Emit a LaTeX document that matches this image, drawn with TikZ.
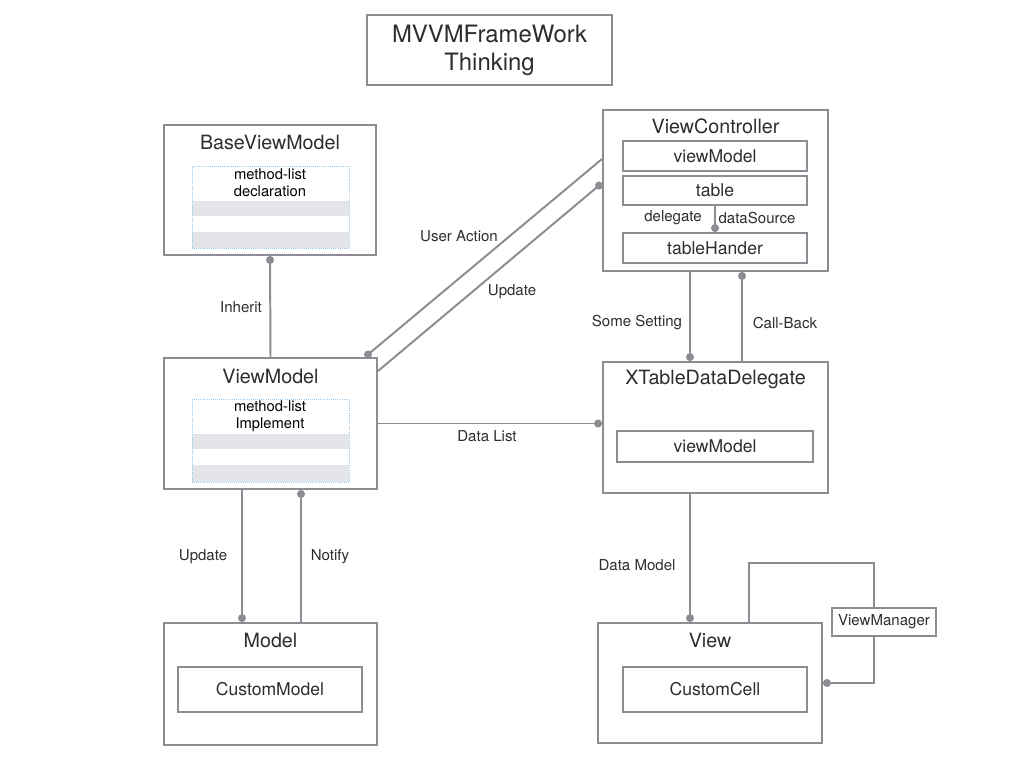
\documentclass[tikz,border=0pt]{standalone}
\usepackage{fontspec}
\setmainfont{TeX Gyre Heros}
\usepackage{tikz}
\usetikzlibrary{positioning,
				arrows.meta,
				calc}

\definecolor{frame}{RGB}{140,140,146}
\definecolor{ink}{RGB}{45,45,45}
\definecolor{band}{RGB}{228,229,233}
\definecolor{hint}{RGB}{150,198,228}

\tikzset{
	wh/.style 2 args={minimum width=#1*0.025cm, minimum height=#2*0.025cm},
	box/.style={draw=frame, line width=1.4pt, fill=white, inner sep=0pt, text=ink},
	hintbox/.style={draw=hint, densely dotted, line width=0.5pt, inner sep=0pt},
	ttl/.style={text=ink, font=\fontsize{14}{16}\selectfont},
	item/.style={text=ink, font=\fontsize{12.5}{14}\selectfont},
	lbl/.style={text=ink, font=\fontsize{10.7}{12}\selectfont},
	mlist/.style={text=black, align=center, font=\fontsize{10.5}{11.8}\selectfont},
	link/.style={draw=frame, line width=1.4pt},
	dotend/.style={-{Circle[length=5.6pt]}}
}

\begin{document}
\begin{tikzpicture}[x=0.025cm, y=-0.025cm]
	\useasboundingbox (0,0) rectangle (1024,768);

	% title
	\node[box, wh={245}{70}, align=center, font=\fontsize{17}{20}\selectfont] (title) at (489.5,50) {MVVMFrameWork\\Thinking};

	% left column
	\node[box, wh={212}{130}] (base) at (270,190) {};
	\node[ttl] (base-t) at ($(base.north)+(0,18)$) {BaseViewModel};
	\fill[band] (192,201) rectangle (349,216);
	\fill[band] (192,232) rectangle (349,248);
	\node[hintbox, wh={157}{82}] (base-m) at (270.5,207) {};
	\node[mlist] at (270,183) {method-list\\declaration};

	\node[box, wh={213}{131}] (vm) at (270.5,423.5) {};
	\node[ttl] (vm-t) at ($(vm.north)+(0,19)$) {ViewModel};
	\fill[band] (192,434) rectangle (349,449);
	\fill[band] (192,465) rectangle (349,482);
	\node[hintbox, wh={157}{83}] (vm-m) at (270.5,440.5) {};
	\node[mlist] at (270,416.5) {method-list\\Implement};

	\node[box, wh={213}{122}] (model) at (270.5,684) {};
	\node[ttl] (model-t) at ($(model.north)+(0,18)$) {Model};
	\node[box, item, wh={184}{45}] (cmodel) at (270,689.5) {CustomModel};

	% right column
	\node[box, wh={225}{161}] (vc) at (715.5,190.5) {};
	\node[ttl] (vc-t) at ($(vc.north)+(0,17)$) {ViewController};
	\node[box, item, wh={184}{30}] (vc-vm) at (715,156) {viewModel};
	\node[box, item, wh={184}{29}] (table) at (715,190.5) {table};
	\node[box, item, wh={184}{30}] (hander) at (715,248) {tableHander};
	\node[lbl] at (673,218) {delegate};
	\node[lbl] at (757,218) {dataSource};

	\node[box, wh={225}{131}] (xd) at (715.5,427.5) {};
	\node[ttl] (xd-t) at ($(xd.north)+(0,18)$) {XTableDataDelegate};
	\node[box, item, wh={196}{31}] (xd-vm) at (715,446.5) {viewModel};

	\node[box, wh={224}{120}] (view) at (710,683) {};
	\node[ttl] (view-t) at ($(view.north)+(0,18)$) {View};
	\node[box, item, wh={184}{45}] (cell) at (715,689.5) {CustomCell};

	\node[box, lbl, wh={104}{28}] (vman) at (884,622) {ViewManager};

	% connectors
	\draw[link, dotend] (vm.north) -- (base.south);
	\draw[link, dotend] ($(vc.west)+(0,-31.5)$) -- ($(vm.north east)+(-13,0)$);
	\draw[link, dotend] ($(vm.north east)+(0,14)$) -- ($(vc.west)+(0,-7.5)$);
	\draw[link, dotend] (vm.east) -- (vm.east -| xd.west);
	\draw[link, dotend] (table.south) -- (hander.north);
	\draw[link, dotend] ($(vc.south)+(-25.5,0)$) coordinate (ss) -- (ss |- xd.north);
	\draw[link, dotend] ($(xd.north)+(26.5,0)$) coordinate (cb) -- (cb |- vc.south);
	\draw[link, dotend] ($(xd.south)+(-25.5,0)$) coordinate (dm) -- (dm |- view.north);
	\draw[link, dotend] ($(vm.south)+(-28.5,0)$) coordinate (up) -- (up |- model.north);
	\draw[link, dotend] ($(model.north)+(30.5,0)$) coordinate (nf) -- (nf |- vm.south);
	\coordinate (bend) at (874,563);
	\draw[link] ($(view.north)+(39,0)$) coordinate (vt) -- (vt |- bend) -- (bend) -- (bend |- vman.north);
	\draw[link, dotend] (bend |- vman.south) |- (view.east);

	% labels
	\node[lbl] at (241,307) {Inherit};
	\node[lbl] at (459,236) {User Action};
	\node[lbl] at (512,292) {Update};
	\node[lbl] at (487,436) {Data List};
	\node[lbl] at (637,323) {Some Setting};
	\node[lbl] at (785,323) {Call-Back};
	\node[lbl] at (637,565) {Data Model};
	\node[lbl] at (203,557) {Update};
	\node[lbl] at (330,557) {Notify};
\end{tikzpicture}
\end{document}
